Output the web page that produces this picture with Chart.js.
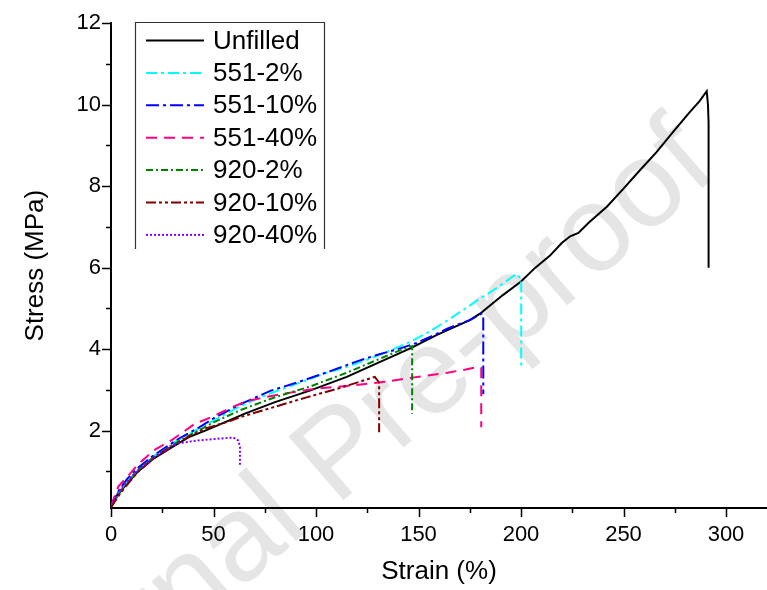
<!DOCTYPE html>
<html>
<head>
<meta charset="utf-8">
<script src="https://cdn.jsdelivr.net/npm/chart.js@4.4.0/dist/chart.umd.min.js"></script>
<style>
  body { margin: 0; background: #fff; }
  canvas { display: block; }
</style>
</head>
<body>
<canvas id="myChart" width="767" height="590"></canvas>
<script>
const FONT = 'Arial, "Liberation Sans", sans-serif';

// strain (%) / stress (MPa)
const unfilledX = [0, 3, 7, 13, 21, 30, 38, 46, 54, 65, 80, 97, 115, 131, 146, 159, 175, 180, 191, 200, 207, 214, 220, 224, 228, 233, 242, 250, 258, 266, 274, 282, 287, 290.6, 291.2, 291.5, 291.5];
const unfilledY = [0.12, 0.42, 0.65, 0.99, 1.32, 1.6, 1.84, 2.0, 2.17, 2.41, 2.7, 2.98, 3.32, 3.68, 4.02, 4.35, 4.71, 4.87, 5.32, 5.66, 6.0, 6.29, 6.61, 6.77, 6.85, 7.1, 7.5, 7.94, 8.39, 8.83, 9.32, 9.8, 10.08, 10.33, 10.0, 9.57, 6.0];

const s551_2X = [0, 4, 8, 14, 22, 31, 41, 51, 63, 75, 84, 96, 104, 116, 126, 136, 146, 155, 164, 172, 180, 186, 191, 195, 197.7, 200.1, 200.1];
const s551_2Y = [0.13, 0.5, 0.76, 1.08, 1.42, 1.72, 2.0, 2.27, 2.6, 2.86, 3.03, 3.25, 3.4, 3.58, 3.76, 3.96, 4.18, 4.42, 4.7, 4.97, 5.24, 5.43, 5.6, 5.75, 5.84, 5.72, 3.54];

const s551_10X = [0, 4, 8, 13, 21, 33, 43, 51, 64, 78, 92, 107, 120, 130, 140, 149, 157, 164, 170, 175, 180.6, 181.6, 181.6];
const s551_10Y = [0.12, 0.55, 0.82, 1.08, 1.4, 1.8, 2.08, 2.33, 2.67, 2.98, 3.2, 3.46, 3.7, 3.86, 4.0, 4.15, 4.33, 4.5, 4.62, 4.71, 4.87, 4.85, 2.89];

const s551_40X = [0, 3.6, 6.8, 13, 21, 30, 41, 49, 59, 66, 75, 86, 100, 116, 131, 147, 164, 173, 179.5, 180.6, 180.6];
const s551_40Y = [0.15, 0.63, 0.8, 1.16, 1.52, 1.78, 2.17, 2.33, 2.57, 2.72, 2.82, 2.92, 3.03, 3.1, 3.18, 3.3, 3.42, 3.5, 3.57, 3.54, 2.08];

const s920_2X = [0, 4, 7, 13, 21, 30, 40, 50, 63, 80, 97, 114, 131, 140, 146.9, 146.9];
const s920_2Y = [0.13, 0.45, 0.66, 1.02, 1.36, 1.65, 1.93, 2.2, 2.5, 2.82, 3.08, 3.4, 3.76, 3.95, 4.07, 2.41];

const s920_10X = [0, 4, 7, 13, 21, 30, 38, 46, 59, 63, 79, 95, 112, 125, 128.7, 130.8, 130.8];
const s920_10Y = [0.12, 0.42, 0.62, 0.98, 1.33, 1.62, 1.86, 2.05, 2.25, 2.33, 2.57, 2.81, 3.05, 3.26, 3.32, 3.18, 1.96];

const s920_40X = [0, 2.8, 6.8, 13, 21, 30, 34, 43, 52, 59.6, 62, 62.9, 62.9];
const s920_40Y = [0.19, 0.43, 0.7, 1.02, 1.35, 1.64, 1.7, 1.76, 1.8, 1.83, 1.76, 1.6, 1.12];

const seriesNames = ["Unfilled", "551-2%", "551-10%", "551-40%", "920-2%", "920-10%", "920-40%"];
const seriesX = [unfilledX, s551_2X, s551_10X, s551_40X, s920_2X, s920_10X, s920_40X];
const seriesY = [unfilledY, s551_2Y, s551_10Y, s551_40Y, s920_2Y, s920_10Y, s920_40Y];
const seriesColors = ["#000000", "#00ffff", "#0000ff", "#ff0080", "#008000", "#800000", "#8000ff"];
const seriesDash = [[], [11, 4, 3, 4], [13, 4, 3, 4], [11, 7], [7, 3, 2, 3], [10, 3, 3, 3, 3, 3], [2, 2]];

const xTicks = [0, 25, 50, 75, 100, 125, 150, 175, 200, 225, 250, 275, 300];
const yTicks = [1, 2, 3, 4, 5, 6, 7, 8, 9, 10, 11, 12];

const datasets = seriesNames.map((name, i) => ({
  label: name,
  data: seriesX[i].map((x, j) => ({ x: x, y: seriesY[i][j] })),
  borderColor: seriesColors[i],
  backgroundColor: seriesColors[i],
  borderDash: seriesDash[i],
  borderWidth: 2,
  pointRadius: 0,
  showLine: true,
  tension: 0,
  order: seriesNames.length - i,
}));

// watermark behind everything
const watermark = {
  id: "watermark",
  beforeDraw(chart) {
    const ctx = chart.ctx;
    ctx.save();
    ctx.translate(364, 482);
    ctx.rotate(-41 * Math.PI / 180);
    ctx.font = "122px " + FONT;
    ctx.fillStyle = "#e5e5e5";
    ctx.textAlign = "center";
    ctx.textBaseline = "alphabetic";
    ctx.fillText("Journal Pre-proof", 0, 0);
    ctx.restore();
  },
};

// outward tick marks, long on labelled ticks and short on the others
const tickMarks = {
  id: "tickMarks",
  afterDraw(chart) {
    const ctx = chart.ctx;
    const xs = chart.scales.x, ys = chart.scales.y;
    ctx.save();
    ctx.strokeStyle = "#000";
    ctx.lineWidth = 1.5;
    ctx.beginPath();
    xs.ticks.forEach(t => {
      const px = Math.round(xs.getPixelForValue(t.value)) + 0.5;
      const len = t.value % 50 === 0 ? 9 : 5;
      ctx.moveTo(px, xs.top);
      ctx.lineTo(px, xs.top + len);
    });
    ys.ticks.forEach(t => {
      const py = Math.round(ys.getPixelForValue(t.value)) + 0.5;
      const len = t.value % 2 === 0 ? 9 : 5;
      ctx.moveTo(ys.right, py);
      ctx.lineTo(ys.right - len, py);
    });
    ctx.stroke();
    ctx.restore();
  },
};

// legend box open at the bottom, like the original
const legendBox = {
  id: "legendBox",
  afterDraw(chart) {
    const ctx = chart.ctx;
    const left = 135.5, top = 22.5, right = 324.5, bottom = 249;
    ctx.save();
    ctx.strokeStyle = "#333";
    ctx.lineWidth = 1.2;
    ctx.setLineDash([]);
    ctx.beginPath();
    ctx.moveTo(left, bottom);
    ctx.lineTo(left, top);
    ctx.lineTo(right, top);
    ctx.lineTo(right, bottom);
    ctx.stroke();
    ctx.font = "26px " + FONT;
    ctx.textBaseline = "middle";
    ctx.textAlign = "left";
    chart.data.datasets.forEach((ds, i) => {
      const y = 40.5 + i * 32.4;
      ctx.strokeStyle = ds.borderColor;
      ctx.lineWidth = 2;
      ctx.setLineDash(ds.borderDash);
      ctx.beginPath();
      ctx.moveTo(146, y);
      ctx.lineTo(204, y);
      ctx.stroke();
      ctx.fillStyle = "#000";
      ctx.fillText(ds.label, 213, y + 1);
    });
    ctx.restore();
  },
};

new Chart(document.getElementById("myChart"), {
  type: "scatter",
  data: { datasets: datasets },
  options: {
    responsive: false,
    animation: false,
    layout: { padding: { top: 17, right: 0, bottom: 0, left: 0 } },
    plugins: {
      legend: { display: false },
      tooltip: { enabled: false },
    },
    scales: {
      x: {
        type: "linear",
        min: 0,
        max: 320,
        afterBuildTicks: (scale) => { scale.ticks = xTicks.map(v => ({ value: v })); },
        afterFit: (scale) => { scale.height = 82; },
        grid: { display: false, drawTicks: false },
        border: { display: true, color: "#000", width: 2 },
        ticks: {
          autoSkip: false,
          maxRotation: 0,
          padding: 14,
          color: "#000",
          font: { family: FONT, size: 22 },
          callback: (v) => (v % 50 === 0 ? v : ""),
        },
        title: {
          display: true,
          text: "Strain (%)",
          color: "#000",
          font: { family: FONT, size: 26 },
          padding: { top: 0, bottom: 3 },
        },
      },
      y: {
        type: "linear",
        min: 0.1,
        max: 12,
        afterBuildTicks: (scale) => { scale.ticks = yTicks.map(v => ({ value: v })); },
        afterFit: (scale) => { scale.width = 111; },
        grid: { display: false, drawTicks: false },
        border: { display: true, color: "#000", width: 2 },
        ticks: {
          autoSkip: false,
          padding: 10,
          color: "#000",
          font: { family: FONT, size: 22 },
          callback: (v) => (v % 2 === 0 ? v : ""),
        },
        title: {
          display: true,
          text: "Stress (MPa)",
          color: "#000",
          font: { family: FONT, size: 26 },
          padding: { top: 20, bottom: 0 },
        },
      },
    },
  },
  plugins: [watermark, tickMarks, legendBox],
});
</script>
</body>
</html>
